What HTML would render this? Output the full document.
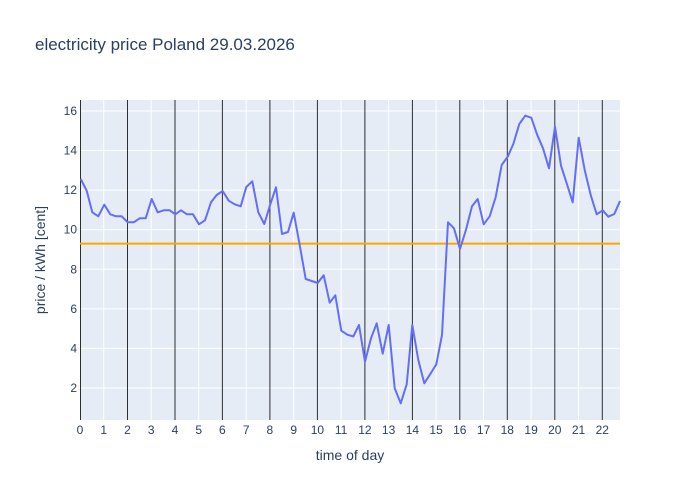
<!DOCTYPE html>
<html><head><meta charset="utf-8"><style>body{margin:0;background:#fff}svg{display:block}text{font-family:"Liberation Sans",sans-serif;fill:#2a3f5f}</style></head><body>
<svg width="700" height="500" xmlns="http://www.w3.org/2000/svg">
<rect width="700" height="500" fill="#fff"/>
<rect x="80" y="100" width="540" height="320" fill="#e5ecf6"/>
<g stroke="#fff" stroke-width="1">
<line x1="80" x2="620" y1="388" y2="388"/><line x1="80" x2="620" y1="348.4" y2="348.4"/><line x1="80" x2="620" y1="308.9" y2="308.9"/><line x1="80" x2="620" y1="269.3" y2="269.3"/><line x1="80" x2="620" y1="229.7" y2="229.7"/><line x1="80" x2="620" y1="190.1" y2="190.1"/><line x1="80" x2="620" y1="150.5" y2="150.5"/><line x1="80" x2="620" y1="111" y2="111"/>
<line x1="103.7" x2="103.7" y1="100" y2="420"/><line x1="151.2" x2="151.2" y1="100" y2="420"/><line x1="198.7" x2="198.7" y1="100" y2="420"/><line x1="246.2" x2="246.2" y1="100" y2="420"/><line x1="293.7" x2="293.7" y1="100" y2="420"/><line x1="341.1" x2="341.1" y1="100" y2="420"/><line x1="388.6" x2="388.6" y1="100" y2="420"/><line x1="436.1" x2="436.1" y1="100" y2="420"/><line x1="483.6" x2="483.6" y1="100" y2="420"/><line x1="531.1" x2="531.1" y1="100" y2="420"/><line x1="578.5" x2="578.5" y1="100" y2="420"/>
</g>
<g stroke="#000" stroke-width="1" opacity="0.8">
<line x1="80.5" x2="80.5" y1="100" y2="420"/><line x1="127.5" x2="127.5" y1="100" y2="420"/><line x1="175" x2="175" y1="100" y2="420"/><line x1="222.4" x2="222.4" y1="100" y2="420"/><line x1="269.9" x2="269.9" y1="100" y2="420"/><line x1="317.4" x2="317.4" y1="100" y2="420"/><line x1="364.9" x2="364.9" y1="100" y2="420"/><line x1="412.4" x2="412.4" y1="100" y2="420"/><line x1="459.8" x2="459.8" y1="100" y2="420"/><line x1="507.3" x2="507.3" y1="100" y2="420"/><line x1="554.8" x2="554.8" y1="100" y2="420"/><line x1="602.3" x2="602.3" y1="100" y2="420"/>
</g>
<line x1="80" x2="620" y1="243.6" y2="243.6" stroke="#ffa500" stroke-width="2"/>
<polyline fill="none" stroke="#636efa" stroke-width="2" stroke-linejoin="round" points="80.7,179 86.7,190.7 92.3,212.3 98.3,216.3 104.3,204.7 110.3,214.3 116,216.3 121.7,216.3 127.7,222.3 133.7,222.3 139.7,218.3 145.7,218.3 151.7,199 157.7,212.3 163.7,210.3 169.7,210.3 175.3,214.3 181,210.3 187,214.3 193,214.3 199,224.3 205,220.3 211,202.3 216.7,195 222.7,191 228.7,200.7 234.7,204.3 240.7,206.3 246.3,187 252.3,181.3 258.3,212.3 264.3,224 270.3,204.3 276,187.3 282,234 288,232 293.7,212.7 299.7,245 305.7,279 311.7,281 317.7,283 323.7,275.3 329.7,302.7 335.3,295.3 341.3,330.7 347.3,334.7 353.3,336.5 359,325 365,361.7 371,338.3 376.7,323.3 382.7,353.7 388.7,325 394.7,388.3 400.7,403.3 406.7,384.3 412.3,325 418.3,360 424.3,383.3 430.3,374 436.3,364.3 442,335 448,222.3 454,228.3 460,249 466,229.7 472,206.3 477.7,199 483.7,224.3 489.7,216.3 495.7,197 501.7,165 507.7,156.7 513.3,144 519.3,124 525.3,115.7 531.3,117.7 537,134.3 543,148.3 549,168.3 555,126.7 561,165.7 566.7,183.3 572.7,202.3 578.7,137.7 584.7,170 590.7,195 596.7,214.3 602.7,210.3 608.3,216.7 614.3,214 620,201"/>
<g font-size="12" text-anchor="end">
<text x="77" y="392">2</text><text x="77" y="352.4">4</text><text x="77" y="312.9">6</text><text x="77" y="273.3">8</text><text x="77" y="233.7">10</text><text x="77" y="194.1">12</text><text x="77" y="154.5">14</text><text x="77" y="115">16</text>
</g>
<g font-size="12" text-anchor="middle">
<text x="80" y="434">0</text><text x="103.7" y="434">1</text><text x="127.5" y="434">2</text><text x="151.2" y="434">3</text><text x="175" y="434">4</text><text x="198.7" y="434">5</text><text x="222.4" y="434">6</text><text x="246.2" y="434">7</text><text x="269.9" y="434">8</text><text x="293.7" y="434">9</text><text x="317.4" y="434">10</text><text x="341.1" y="434">11</text><text x="364.9" y="434">12</text><text x="388.6" y="434">13</text><text x="412.4" y="434">14</text><text x="436.1" y="434">15</text><text x="459.8" y="434">16</text><text x="483.6" y="434">17</text><text x="507.3" y="434">18</text><text x="531.1" y="434">19</text><text x="554.8" y="434">20</text><text x="578.5" y="434">21</text><text x="602.3" y="434">22</text>
</g>
<text x="350" y="460" font-size="14" text-anchor="middle">time of day</text>
<text transform="translate(45,260) rotate(-90)" font-size="14" text-anchor="middle">price / kWh [cent]</text>
<text x="35" y="50" font-size="17">electricity price Poland 29.03.2026</text>
</svg>
</body></html>
